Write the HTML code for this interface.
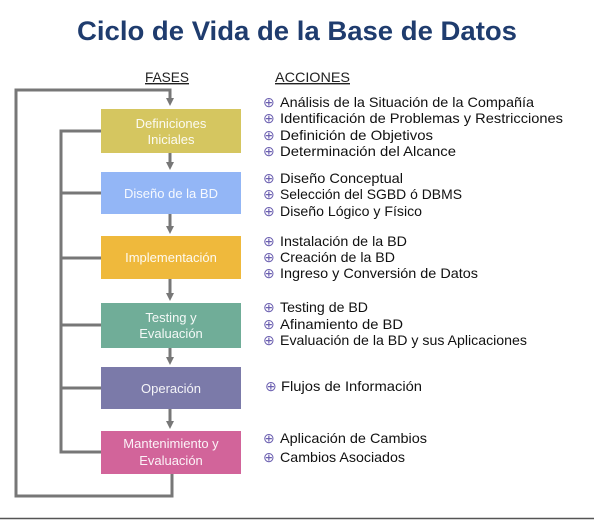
<!DOCTYPE html>
<html><head><meta charset="utf-8"><style>
html,body{margin:0;padding:0;background:#fff;}
svg{display:block;font-family:"Liberation Sans",sans-serif;}
</style></head><body>
<svg width="594" height="521" viewBox="0 0 594 521">
<defs><marker id="a" markerWidth="8" markerHeight="8" refX="4" refY="4" orient="auto" markerUnits="userSpaceOnUse"><path d="M0,0 L8,4 L0,8 z" fill="#777"/></marker></defs>
<text x="297" y="40" text-anchor="middle" font-size="27" font-weight="bold" fill="#1f3c6e" textLength="440" lengthAdjust="spacingAndGlyphs">Ciclo de Vida de la Base de Datos</text>
<text x="167" y="82" text-anchor="middle" font-size="14" fill="#222" text-decoration="underline" textLength="44" lengthAdjust="spacingAndGlyphs">FASES</text>
<text x="275" y="82" font-size="14" fill="#222" text-decoration="underline" textLength="75" lengthAdjust="spacingAndGlyphs">ACCIONES</text>
<g stroke="#777" stroke-width="3" fill="none">
<polyline points="172,474 172,496 16,496 16,90 170,90 170,102" marker-end="url(#a)"/>
<polyline points="101,131 61,131 61,452 101,452"/>
<line x1="61" y1="193" x2="101" y2="193"/>
<line x1="61" y1="258" x2="101" y2="258"/>
<line x1="61" y1="325" x2="101" y2="325"/>
<line x1="61" y1="388" x2="101" y2="388"/>
<line x1="170" y1="153" x2="170" y2="166" marker-end="url(#a)"/>
<line x1="170" y1="214" x2="170" y2="230" marker-end="url(#a)"/>
<line x1="170" y1="279" x2="170" y2="297" marker-end="url(#a)"/>
<line x1="170" y1="348" x2="170" y2="361" marker-end="url(#a)"/>
<line x1="170" y1="409" x2="170" y2="425" marker-end="url(#a)"/>
</g>
<rect x="101" y="109" width="140" height="44" fill="#d5c660"/>
<rect x="101" y="172" width="140" height="42" fill="#93b6f6"/>
<rect x="101" y="236" width="140" height="43" fill="#efb93c"/>
<rect x="101" y="303" width="140" height="45" fill="#70ad98"/>
<rect x="101" y="367" width="140" height="42" fill="#7b7aa9"/>
<rect x="101" y="431" width="140" height="43" fill="#d2649a"/>
<g font-size="13" fill="#fff" text-anchor="middle" opacity="0.92">
<text x="171" y="128">Definiciones</text><text x="171" y="144">Iniciales</text>
<text x="171" y="198">Diseño de la BD</text>
<text x="171" y="262">Implementación</text>
<text x="171" y="322">Testing y</text><text x="171" y="338">Evaluación</text>
<text x="171" y="393">Operación</text>
<text x="171" y="448">Mantenimiento y</text><text x="171" y="465">Evaluación</text>
</g>
<g font-size="14" fill="#111">
<g fill="#6b5fb0" font-size="14"><text x="263" y="107">⊕</text><text x="263" y="123">⊕</text><text x="263" y="140">⊕</text><text x="263" y="156">⊕</text><text x="263" y="183">⊕</text><text x="263" y="199">⊕</text><text x="263" y="216">⊕</text><text x="263" y="246">⊕</text><text x="263" y="262">⊕</text><text x="263" y="278">⊕</text><text x="263" y="312">⊕</text><text x="263" y="329">⊕</text><text x="263" y="345">⊕</text><text x="265" y="391">⊕</text><text x="263" y="443">⊕</text><text x="263" y="462">⊕</text></g>
<text x="280" y="107" textLength="254" lengthAdjust="spacingAndGlyphs">Análisis de la Situación de la Compañía</text>
<text x="280" y="123" textLength="283" lengthAdjust="spacingAndGlyphs">Identificación de Problemas y Restricciones</text>
<text x="280" y="140" textLength="153" lengthAdjust="spacingAndGlyphs">Definición de Objetivos</text>
<text x="280" y="156" textLength="176" lengthAdjust="spacingAndGlyphs">Determinación del Alcance</text>
<text x="280" y="183" textLength="123" lengthAdjust="spacingAndGlyphs">Diseño Conceptual</text>
<text x="280" y="199" textLength="182" lengthAdjust="spacingAndGlyphs">Selección del SGBD ó DBMS</text>
<text x="280" y="216" textLength="142" lengthAdjust="spacingAndGlyphs">Diseño Lógico y Físico</text>
<text x="280" y="246" textLength="127" lengthAdjust="spacingAndGlyphs">Instalación de la BD</text>
<text x="280" y="262" textLength="115" lengthAdjust="spacingAndGlyphs">Creación de la BD</text>
<text x="280" y="278" textLength="198" lengthAdjust="spacingAndGlyphs">Ingreso y Conversión de Datos</text>
<text x="280" y="312" textLength="88" lengthAdjust="spacingAndGlyphs">Testing de BD</text>
<text x="280" y="329" textLength="123" lengthAdjust="spacingAndGlyphs">Afinamiento de BD</text>
<text x="280" y="345" textLength="247" lengthAdjust="spacingAndGlyphs">Evaluación de la BD y sus Aplicaciones</text>
<text x="281" y="391" textLength="141" lengthAdjust="spacingAndGlyphs">Flujos de Información</text>
<text x="280" y="443" textLength="147" lengthAdjust="spacingAndGlyphs">Aplicación de Cambios</text>
<text x="280" y="462" textLength="125" lengthAdjust="spacingAndGlyphs">Cambios Asociados</text>
</g>
<line x1="0" y1="518.5" x2="594" y2="518.5" stroke="#555" stroke-width="1.5"/>
</svg>
</body></html>
